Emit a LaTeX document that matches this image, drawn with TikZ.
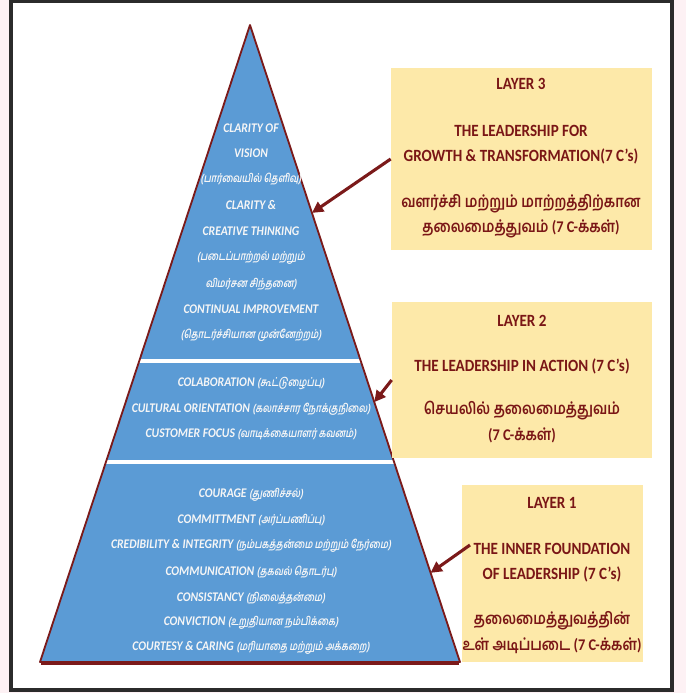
\documentclass[tikz,border=0pt]{standalone}
\usepackage{fontspec}
\setmainfont{Carlito}[FakeStretch=0.88]
\newfontfamily\tamilfont[Script=Tamil,FakeStretch=0.85]{Hind Madurai}
\newfontfamily\tamilslant[Script=Tamil,FakeSlant=0.18,FakeStretch=0.76]{Hind Madurai}
\usetikzlibrary{arrows.meta,calc}

\definecolor{pyrblue}{HTML}{5B9BD5}
\definecolor{edgered}{HTML}{7B1A1A}
\definecolor{boxyellow}{HTML}{FDE9A9}
\definecolor{layertext}{HTML}{7A1616}
\definecolor{framegray}{HTML}{2B2B2B}
\definecolor{pagepink}{HTML}{FDF1F4}

\newcommand{\ta}[1]{{\tamilslant\fontsize{8.2}{9}\selectfont #1}}
\newcommand{\tb}[1]{{\tamilfont\bfseries #1}}

\tikzset{
  ctext/.style={text=white!93!gray, font=\bfseries\itshape\fontsize{9.4}{11}\selectfont, inner sep=1pt},
  layerbox/.style={fill=boxyellow, inner sep=0pt},
  boxtext/.style={text=layertext, font=\bfseries\fontsize{12.2}{13}\selectfont, inner sep=1pt},
  boxtamil/.style={text=layertext, font=\bfseries\fontsize{11.6}{13}\selectfont, inner sep=1pt},
  pointer/.style={draw=edgered, line width=2.2pt, -{Triangle[length=8pt,width=8pt]}}
}

\begin{document}
\begin{tikzpicture}[x=0.025cm,y=-0.025cm]
  \useasboundingbox (0,0) rectangle (686,693);
  \fill[pagepink] (0,0) rectangle (686,693);
  \draw[framegray, line width=2.2pt, fill=white] (11,1.5) rectangle (672,690);

  % pyramid
  \coordinate (apex) at (250,25);
  \coordinate (baseL) at (40,662);
  \coordinate (baseR) at (460,662);
  \fill[pyrblue] (apex) -- (baseR) -- (baseL) -- cycle;
  \draw[white, line width=2.6pt] ($(apex)!0.5275!(baseL)$) -- ($(apex)!0.5275!(baseR)$);
  \draw[white, line width=2.6pt] ($(apex)!0.686!(baseL)$) -- ($(apex)!0.686!(baseR)$);
  \draw[edgered, line width=1.3pt, line join=round] (apex) -- (baseR) -- (baseL) -- cycle;
  \draw[edgered, line width=2pt] ($(baseL)+(1,1.5)$) -- ($(baseR)+(-1,1.5)$);

  % layer 3 lines
  \node[ctext] (c31) at (251,128) {CLARITY OF};
  \node[ctext] (c32) at (251,153) {VISION};
  \node[ctext] (c33) at (251,179) {\ta{(பார்வையில் தெளிவு)}};
  \node[ctext] (c34) at (251,205) {CLARITY \&};
  \node[ctext] (c35) at (251,231) {CREATIVE THINKING};
  \node[ctext] (c36) at (251,258) {\ta{(படைப்பாற்றல் மற்றும்}};
  \node[ctext] (c37) at (251,284) {\ta{விமர்சன சிந்தனை)}};
  \node[ctext] (c38) at (251,309) {CONTINUAL IMPROVEMENT};
  \node[ctext] (c39) at (251,335) {\ta{(தொடர்ச்சியான முன்னேற்றம்)}};

  % layer 2 lines
  \node[ctext] (c21) at (251,383) {COLABORATION \ta{(கூட்டுழைப்பு)}};
  \node[ctext] (c22) at (251,409) {CULTURAL ORIENTATION \ta{(கலாச்சார நோக்குநிலை)}};
  \node[ctext] (c23) at (251,434) {CUSTOMER FOCUS \ta{(வாடிக்கையாளர் கவனம்)}};

  % layer 1 lines
  \node[ctext] (c11) at (251,495) {COURAGE \ta{(துணிச்சல்)}};
  \node[ctext] (c12) at (251,520) {COMMITTMENT \ta{(அர்ப்பணிப்பு)}};
  \node[ctext] (c13) at (251,546) {CREDIBILITY \& INTEGRITY \ta{(நம்பகத்தன்மை மற்றும் நேர்மை)}};
  \node[ctext] (c14) at (251,572) {COMMUNICATION \ta{(தகவல் தொடர்பு)}};
  \node[ctext] (c15) at (251,598) {CONSISTANCY \ta{(நிலைத்தன்மை)}};
  \node[ctext] (c16) at (251,623) {CONVICTION \ta{(உறுதியான நம்பிக்கை)}};
  \node[ctext] (c17) at (251,648) {COURTESY \& CARING \ta{(மரியாதை மற்றும் அக்கறை)}};

  % layer boxes
  \node[layerbox, minimum width=6.525cm, minimum height=4.55cm] (box3) at (521.5,159) {};
  \node[layerbox, minimum width=6.5cm, minimum height=3.9cm] (box2) at (522,380) {};
  \node[layerbox, minimum width=4.525cm, minimum height=4.425cm] (box1) at (552.5,573.5) {};

  \node[boxtext] (b31) at (521,84) {LAYER 3};
  \node[boxtext] (b32) at (521,131) {THE LEADERSHIP FOR};
  \node[boxtext] (b33) at (521,156) {GROWTH \& TRANSFORMATION(7 C’s)};
  \node[boxtamil] (b34) at (521,204) {\tb{வளர்ச்சி மற்றும் மாற்றத்திற்கான}};
  \node[boxtamil] (b35) at (521,229) {\tb{தலைமைத்துவம்} (7 C-\tb{க்கள்})};

  \node[boxtext] (b21) at (522,321) {LAYER 2};
  \node[boxtext] (b22) at (522,366) {THE LEADERSHIP IN ACTION (7 C’s)};
  \node[boxtamil] (b23) at (522,411) {\tb{செயலில் தலைமைத்துவம்}};
  \node[boxtamil] (b24) at (522,435) {(7 C-\tb{க்கள்})};

  \node[boxtext] (b11) at (552,503) {LAYER 1};
  \node[boxtext] (b12) at (552,549) {THE INNER FOUNDATION};
  \node[boxtext] (b13) at (552,574) {OF LEADERSHIP (7 C’s)};
  \node[boxtamil] (b14) at (552,621) {\tb{தலைமைத்துவத்தின்}};
  \node[boxtamil] (b15) at (552,646) {\tb{உள் அடிப்படை} (7 C-\tb{க்கள்})};

  % pointers
  \coordinate (tip3) at ($(apex)!0.295!(baseR)$);
  \coordinate (tip2) at ($(apex)!0.592!(baseR)$);
  \coordinate (tip1) at ($(apex)!0.860!(baseR)$);
  \coordinate (from1) at (470,545);
  \draw[pointer] (box3.west) -- (tip3);
  \draw[pointer] (box2.west) -- (tip2);
  \draw[pointer] (from1) -- (tip1);
\end{tikzpicture}
\end{document}
